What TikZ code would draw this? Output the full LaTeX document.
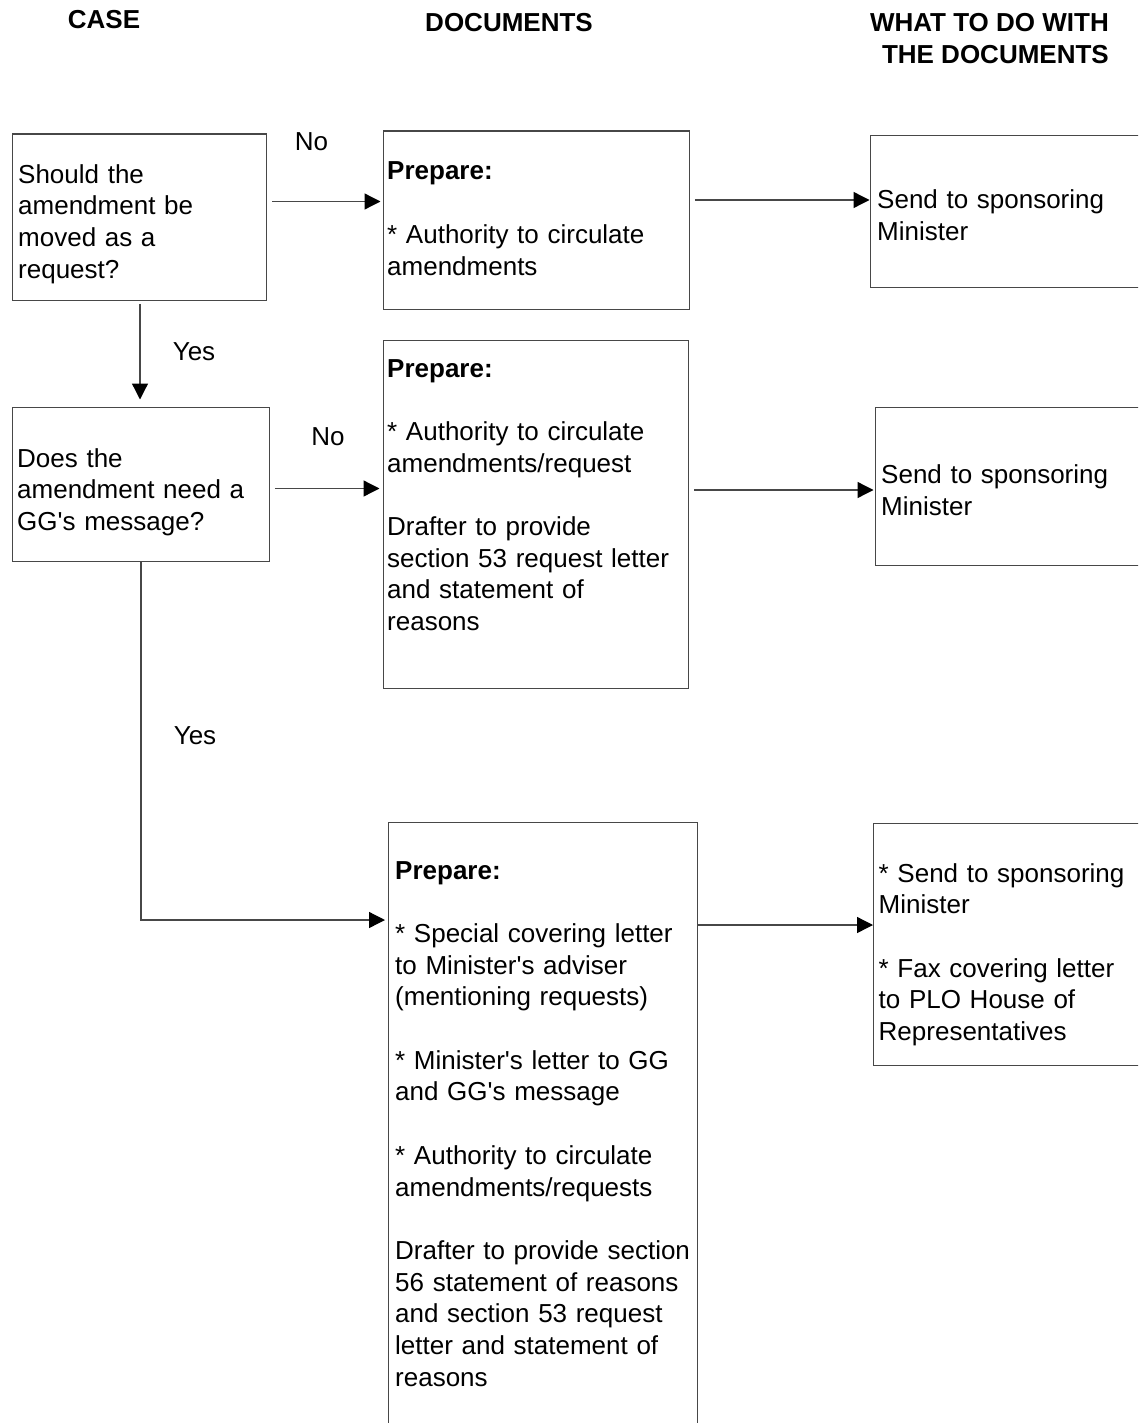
\documentclass[tikz,border=0pt]{standalone}
\usepackage{fontspec}
\setmainfont{Liberation Sans}
\usetikzlibrary{arrows.meta}
\newcommand{\boxfont}{\fontsize{26}{31.7}\selectfont}

\begin{document}
\begin{tikzpicture}[x=1pt,y=-1pt,
    block/.style={draw=black!72, line width=1.3pt, anchor=north west, inner sep=0pt},
    txt/.style={anchor=base west, inner sep=0pt, text width=320pt, align=left, font=\boxfont},
    head/.style={anchor=base, inner sep=0pt, font=\boxfont\bfseries},
    lbl/.style={anchor=base, inner sep=0pt, font=\boxfont},
    flow/.style={draw=black!72, line width=1.3pt, -{Triangle[length=16pt,width=16pt,color=black]}}]
    \path[use as bounding box] (0,0) rectangle (1138,1423);
    \clip (0,0) rectangle (1138,1423);

    % column headings
    \node[head] (hcase) at (104,28.5) {CASE};
    \node[head] (hdocs) at (509,32) {DOCUMENTS};
    \node[head, anchor=base east, align=right] (hwhat) at (1109,63.3) {WHAT TO DO WITH\\THE DOCUMENTS};

    % boxes
    \node[block, minimum width=254.5pt, minimum height=166pt] (q1) at (11.5,133.5) {};
    \node[block, minimum width=306pt, minimum height=178pt] (prep1) at (382.5,130.5) {};
    \node[block, minimum width=300pt, minimum height=152pt] (send1) at (869.5,135) {};
    \node[block, minimum width=257.5pt, minimum height=154.5pt] (q2) at (11.5,406.5) {};
    \node[block, minimum width=305.5pt, minimum height=348pt] (prep2) at (382.5,340) {};
    \node[block, minimum width=300pt, minimum height=158pt] (send2) at (875,406.5) {};
    \node[block, minimum width=309pt, minimum height=700pt] (prep3) at (388,822) {};
    \node[block, minimum width=300pt, minimum height=242pt] (send3) at (873,823) {};

    % box texts
    \node[txt] (q1txt) at (18,183.3) {Should the\\amendment be\\moved as a\\request?};
    \node[txt] (prep1txt) at (387,180) {\textbf{Prepare:}\\[31.7pt]* Authority to circulate\\amendments};
    \node[txt] (send1txt) at (877,208.5) {Send to sponsoring\\Minister};
    \node[txt] (q2txt) at (17,467) {Does the\\amendment need a\\GG\textquotesingle s message?};
    \node[txt] (prep2txt) at (387,377) {\textbf{Prepare:}\\[31.7pt]* Authority to circulate\\amendments/request\\[31.7pt]Drafter to provide\\section 53 request letter\\and statement of\\reasons};
    \node[txt] (send2txt) at (881,483.5) {Send to sponsoring\\Minister};
    \node[txt] (prep3txt) at (395,879) {\textbf{Prepare:}\\[31.7pt]* Special covering letter\\to Minister\textquotesingle s adviser\\(mentioning requests)\\[31.7pt]* Minister\textquotesingle s letter to GG\\and GG\textquotesingle s message\\[31.7pt]* Authority to circulate\\amendments/requests\\[31.7pt]Drafter to provide section\\56 statement of reasons\\and section 53 request\\letter and statement of\\reasons};
    \node[txt] (send3txt) at (878.5,882) {* Send to sponsoring\\Minister\\[31.7pt]* Fax covering letter\\to PLO House of\\Representatives};

    % connectors
    \draw[flow, shorten >=2pt] ([shift={(5,68)}]q1.north east) coordinate (no1) -- (no1 -| prep1.west);
    \draw[flow] ([shift={(5,69.5)}]prep1.north east) coordinate (out1) -- (out1 -| send1.west);
    \draw[flow, shorten >=7pt] ([shift={(128.5,3)}]q1.south west) coordinate (yes1) -- (yes1 |- q2.north);
    \draw[flow, shorten >=3pt] ([shift={(4.5,82)}]q2.north east) coordinate (no2) -- (no2 -| prep2.west);
    \draw[flow, shorten >=1.5pt] ([shift={(5,150)}]prep2.north east) coordinate (out2) -- (out2 -| send2.west);
    \draw[flow] (q2.south) |- ([shift={(-3,98)}]prep3.north west);
    \draw[flow] ([shift={(0,103)}]prep3.north east) coordinate (out3) -- (out3 -| send3.west);

    % branch labels
    \node[lbl] (lno1) at (311.5,151) {No};
    \node[lbl] (lyes1) at (194,360) {Yes};
    \node[lbl] (lno2) at (328,445) {No};
    \node[lbl] (lyes2) at (195,744) {Yes};
\end{tikzpicture}
\end{document}
